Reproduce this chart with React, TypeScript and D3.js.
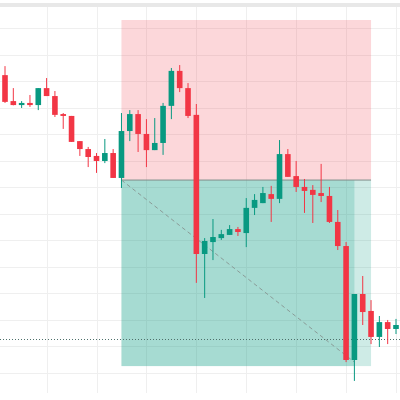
import React from "react";
import * as d3 from "d3";

// OHLC candles (index-based bars)
const opens = [21.24,20.26,20.11,20.19,20.11,20.75,20.45,19.77,19.70,18.75,18.45,18.19,18.00,18.30,17.36,19.13,19.77,19.02,18.41,18.68,20.08,21.40,20.75,19.74,14.49,14.94,15.09,15.21,15.43,15.28,16.23,16.41,16.75,16.57,18.26,17.43,17.02,16.91,16.79,16.68,15.70,14.79,10.49,12.98,12.34,11.36,11.92,11.66];
const highs = [21.58,20.75,20.26,20.49,20.75,21.13,20.64,19.81,19.70,18.75,18.53,18.30,18.83,18.45,19.81,19.92,19.92,19.58,19.62,20.19,21.51,21.62,20.94,20.15,15.09,15.81,15.40,15.58,15.51,16.60,16.75,17.02,17.06,18.79,18.45,18.00,17.32,17.09,17.89,17.02,16.15,14.94,12.98,13.66,12.75,12.15,12.00,12.04];
const lows = [20.19,20.10,20.00,20.04,19.92,20.45,19.66,19.21,18.72,18.19,17.77,17.55,17.92,17.36,16.98,18.75,18.34,17.77,18.41,18.23,19.58,20.60,19.62,13.40,12.83,14.26,15.02,15.21,15.17,14.75,15.96,16.41,15.70,16.41,17.40,16.83,16.04,15.66,16.45,15.66,14.64,10.41,9.70,11.81,11.09,10.98,11.09,11.47];
const closes = [20.23,20.11,20.19,20.11,20.75,20.45,19.74,19.70,18.72,18.45,18.15,18.00,18.30,17.36,19.13,19.77,19.02,18.41,18.68,20.08,21.40,20.75,19.70,14.49,14.98,15.13,15.24,15.43,15.32,16.23,16.53,16.79,16.57,18.26,17.40,17.02,16.87,16.72,16.68,15.70,14.79,10.49,12.98,12.30,11.36,11.92,11.66,11.81];

// Position tool (short)
const entryPrice = 17.28;
const stopPrice = 23.32;
const targetPrice = 10.26;
const positionStart = 14;
const positionEnd = 44;
const positionProgress = 42;
const progressPrice = 10.41;
const markerLevel = 11.28;

// Grid
const priceTicks = [10, 11, 12, 13, 14, 15, 16, 17, 18, 19, 20, 21, 22, 23];
const timeTicks = [5, 11, 17, 23, 29, 35, 41, 47];

const W = 400;
const H = 400;
const UP = "#089981";
const DOWN = "#f23645";

export default function App() {
  const x = d3.scaleLinear().domain([0, opens.length - 1]).range([5, 396]);
  const y = d3.scaleLinear().domain([8.98, 24.075]).range([H, 0]);
  const bodyW = 5.6;

  const candles = opens.map((o, i) => ({ o, h: highs[i], l: lows[i], c: closes[i], i }));

  const zx0 = x(positionStart);
  const zx1 = x(positionEnd);
  const zxp = x(positionProgress);

  return (
    <svg width={W} height={H} style={{ position: "absolute", left: 0, top: 0, background: "#fff" }}>
      <rect x={0} y={0} width={W} height={H} fill="#ffffff" />
      <rect x={0} y={3} width={W} height={4} fill="#e8e8e8" />
      {priceTicks.map((p) => (
        <line key={"h" + p} x1={0} x2={W} y1={Math.round(y(p)) + 0.5} y2={Math.round(y(p)) + 0.5} stroke="#efefef" />
      ))}
      {timeTicks.map((t) => (
        <line key={"v" + t} x1={Math.round(x(t)) + 0.5} x2={Math.round(x(t)) + 0.5} y1={7} y2={393} stroke="#efefef" />
      ))}
      {/* stop zone */}
      <rect x={zx0} y={y(stopPrice)} width={zx1 - zx0} height={y(entryPrice) - y(stopPrice)} fill="rgba(242,54,69,0.2)" />
      {/* target zone */}
      <rect x={zx0} y={y(entryPrice)} width={zx1 - zx0} height={y(targetPrice) - y(entryPrice)} fill="rgba(8,153,129,0.2)" />
      <rect x={zx0} y={y(entryPrice)} width={zxp - zx0} height={y(targetPrice) - y(entryPrice)} fill="rgba(8,153,129,0.2)" />
      <line x1={zx0} x2={zx1} y1={y(entryPrice)} y2={y(entryPrice)} stroke="#7f8f8b" strokeWidth={1} />
      <line x1={zx0} y1={y(entryPrice)} x2={zxp} y2={y(progressPrice)} stroke="#8a9c98" strokeWidth={1} strokeDasharray="4,3" />
      <line x1={0} x2={W} y1={Math.round(y(markerLevel)) + 0.5} y2={Math.round(y(markerLevel)) + 0.5} stroke="#4f706b" strokeWidth={1} strokeDasharray="1,2" />
      {candles.map((d) => {
        const col = d.c >= d.o ? UP : DOWN;
        const cx = x(d.i);
        const top = y(Math.max(d.o, d.c));
        const bot = y(Math.min(d.o, d.c));
        return (
          <g key={d.i}>
            <line x1={cx} x2={cx} y1={y(d.h)} y2={y(d.l)} stroke={col} strokeWidth={1} />
            <rect x={cx - bodyW / 2} y={top} width={bodyW} height={Math.max(1, bot - top)} fill={col} />
          </g>
        );
      })}
    </svg>
  );
}
